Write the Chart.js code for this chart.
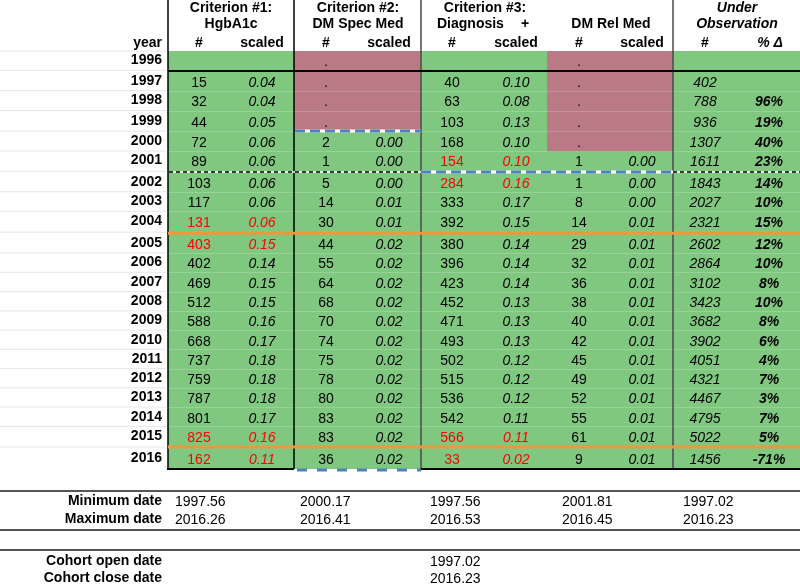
<!DOCTYPE html>
<html>
<head>
<meta charset="utf-8">
<script src="https://cdn.jsdelivr.net/npm/chart.js@4.4.0/dist/chart.umd.min.js"></script>
<style>
body { margin: 0; background: #fff; }
canvas { display: block; }
</style>
</head>
<body>
<canvas id="myChart" width="800" height="584"></canvas>
<script>
// table values, one entry per year (null = empty cell)
var years = [1996, 1997, 1998, 1999, 2000, 2001, 2002, 2003, 2004, 2005, 2006, 2007, 2008, 2009, 2010, 2011, 2012, 2013, 2014, 2015, 2016];
var hgbN = [null, 15, 32, 44, 72, 89, 103, 117, 131, 403, 402, 469, 512, 588, 668, 737, 759, 787, 801, 825, 162];
var hgbS = [null, 0.04, 0.04, 0.05, 0.06, 0.06, 0.06, 0.06, 0.06, 0.15, 0.14, 0.15, 0.15, 0.16, 0.17, 0.18, 0.18, 0.18, 0.17, 0.16, 0.11];
var specN = [null, null, null, null, 2, 1, 5, 14, 30, 44, 55, 64, 68, 70, 74, 75, 78, 80, 83, 83, 36];
var specS = [null, null, null, null, 0.00, 0.00, 0.00, 0.01, 0.01, 0.02, 0.02, 0.02, 0.02, 0.02, 0.02, 0.02, 0.02, 0.02, 0.02, 0.02, 0.02];
var diagN = [null, 40, 63, 103, 168, 154, 284, 333, 392, 380, 396, 423, 452, 471, 493, 502, 515, 536, 542, 566, 33];
var diagS = [null, 0.10, 0.08, 0.13, 0.10, 0.10, 0.16, 0.17, 0.15, 0.14, 0.14, 0.14, 0.13, 0.13, 0.13, 0.12, 0.12, 0.12, 0.11, 0.11, 0.02];
var relN = [null, null, null, null, null, 1, 1, 8, 14, 29, 32, 36, 38, 40, 42, 45, 49, 52, 55, 61, 9];
var relS = [null, null, null, null, null, 0.00, 0.00, 0.00, 0.01, 0.01, 0.01, 0.01, 0.01, 0.01, 0.01, 0.01, 0.01, 0.01, 0.01, 0.01, 0.01];
var obsN = [null, 402, 788, 936, 1307, 1611, 1843, 2027, 2321, 2602, 2864, 3102, 3423, 3682, 3902, 4051, 4321, 4467, 4795, 5022, 1456];
var obsPct = [null, null, 96, 19, 40, 23, 14, 10, 15, 12, 10, 8, 10, 8, 6, 4, 7, 3, 7, 5, -71];

// years shown in red
var hgbRed = [2004, 2005, 2015, 2016];
var diagRed = [2001, 2002, 2015, 2016];
// years with no data (pink cells with ".")
var specMissing = [1996, 1997, 1998, 1999];
var relMissing = [1996, 1997, 1998, 1999, 2000];

var minDates = ['1997.56', '2000.17', '1997.56', '2001.81', '1997.02'];
var maxDates = ['2016.26', '2016.41', '2016.53', '2016.45', '2016.23'];
var cohortOpen = '1997.02';
var cohortClose = '2016.23';

var FONT = '"Liberation Sans", Arial, Helvetica, sans-serif';
var GREEN = '#80c880';
var PINK = '#ba7a85';
var BLUE = '#4f81bd';
var ORANGE = '#f0973c';

// row centres of the sheet (layout only)
var rowCentres = [60, 80.7, 100.5, 120.7, 141.5, 160.5, 182, 201.5, 221, 243.3, 262.6, 282,
                  301.3, 320.5, 339.7, 359, 378.2, 397.5, 416.7, 436, 458];
function rowY(i) { return rowCentres[i]; }
function rowLine(i) { // boundary below row i
    return (rowY(i) + rowY(i + 1)) / 2;
}

var tablePlugin = {
    id: 'table',
    afterDraw: function(chart) {
        var ctx = chart.ctx;
        var sx = chart.scales.x, sy = chart.scales.y;
        function X(v) { return sx.getPixelForValue(v); }
        function Y(v) { return sy.getPixelForValue(v); }
        function rect(x0, y0, x1, y1, color) {
            ctx.fillStyle = color;
            ctx.fillRect(X(x0), Y(y0), X(x1) - X(x0), Y(y1) - Y(y0));
        }
        function line(x0, y0, x1, y1, color, w, dash) {
            ctx.save();
            ctx.strokeStyle = color;
            ctx.lineWidth = w;
            ctx.setLineDash(dash || []);
            ctx.beginPath();
            ctx.moveTo(X(x0), Y(y0));
            ctx.lineTo(X(x1), Y(y1));
            ctx.stroke();
            ctx.restore();
        }
        function text(s, x, y, align, style, color) {
            ctx.font = (style || '') + ' 14px ' + FONT;
            ctx.textAlign = align || 'center';
            ctx.textBaseline = 'middle';
            ctx.fillStyle = color || '#000';
            ctx.fillText(s, X(x), Y(y));
        }

        var top = 51, bottom = 469;
        var n = years.length;

        // faint sheet gridlines left of the table
        line(0, top, 166, top, '#e6e6e6', 1);
        for (var i = 0; i < n; i++) line(0, rowLine(i), 166, rowLine(i), '#e6e6e6', 1);

        // cell backgrounds
        rect(168, top, 800, bottom, GREEN);
        rect(294, top, 421, rowLine(specMissing.length - 1), PINK);
        rect(547, top, 673, rowLine(relMissing.length - 1) + 0.5, PINK);
        for (var i = 1; i < n - 1; i++) {
            var y = Math.round(rowLine(i)) + 0.5;
            line(168, y, 800, y, 'rgba(255,255,255,0.18)', 1);
        }

        // vertical borders
        line(168, 0, 168, bottom, '#000', 1.5);
        line(294, 0, 294, bottom, '#000', 1.5);
        line(421, 0, 421, bottom, '#4a4a4a', 1.5);
        line(673, 0, 673, bottom, '#4a4a4a', 1.5);

        // horizontal borders
        line(168, rowLine(0) + 0.7, 800, rowLine(0) + 0.7, '#000', 2);
        var yb = rowLine(specMissing.length - 1);
        line(295, yb, 421, yb, '#fff', 3);
        line(295, yb, 421, yb, BLUE, 3, [10, 5]);
        var yd = rowLine(5) + 0.8;
        line(169, yd, 421, yd, '#fff', 1.5);
        line(169, yd, 421, yd, '#000', 1.5, [4, 3]);
        line(421, yd, 673, yd, '#fff', 3);
        line(421, yd, 673, yd, BLUE, 3, [10, 5]);
        line(673, yd, 800, yd, '#fff', 1.5);
        line(673, yd, 800, yd, '#000', 1.5, [4, 3]);
        line(168, rowLine(8) + 1, 800, rowLine(8) + 1, ORANGE, 3);
        line(168, rowLine(19), 800, rowLine(19), ORANGE, 3);
        line(167, bottom, 294, bottom, '#000', 2);
        line(421, bottom, 800, bottom, '#000', 2);
        line(297, bottom + 1, 421, bottom + 1, BLUE, 3, [10, 10]);

        // header
        text('Criterion #1:', 231, 8, 'center', 'bold');
        text('HgbA1c', 231, 24, 'center', 'bold');
        text('Criterion #2:', 358, 8, 'center', 'bold');
        text('DM Spec Med', 358, 24, 'center', 'bold');
        text('Criterion #3:', 485, 8, 'center', 'bold');
        text('Diagnosis', 437, 24, 'left', 'bold');
        text('+', 525, 24, 'center', 'bold');
        text('DM Rel Med', 611, 24, 'center', 'bold');
        text('Under', 737, 8, 'center', 'italic bold');
        text('Observation', 737, 24, 'center', 'italic bold');
        text('year', 162, 43, 'right', 'bold');
        var numX = [199, 326, 452, 579], sclX = [262, 389, 516, 642];
        for (var k = 0; k < 4; k++) {
            text('#', numX[k], 43, 'center', 'bold');
            text('scaled', sclX[k], 43, 'center', 'bold');
        }
        text('#', 705, 43, 'center', 'bold');
        text('% \u0394', 770, 43, 'center', 'italic bold');

        // body
        for (var i = 0; i < n; i++) {
            var y = rowY(i) + 2, yr = years[i];
            text(String(yr), 162, rowY(i), 'right', 'bold');
            var c1 = hgbRed.indexOf(yr) >= 0 ? '#ff0000' : '#000';
            var c3 = diagRed.indexOf(yr) >= 0 ? '#ff0000' : '#000';
            if (hgbN[i] !== null) text(String(hgbN[i]), numX[0], y, 'center', '', c1);
            if (hgbS[i] !== null) text(hgbS[i].toFixed(2), sclX[0], y, 'center', 'italic', c1);
            if (specMissing.indexOf(yr) >= 0) text('.', numX[1], y);
            if (specN[i] !== null) text(String(specN[i]), numX[1], y);
            if (specS[i] !== null) text(specS[i].toFixed(2), sclX[1], y, 'center', 'italic');
            if (diagN[i] !== null) text(String(diagN[i]), numX[2], y, 'center', '', c3);
            if (diagS[i] !== null) text(diagS[i].toFixed(2), sclX[2], y, 'center', 'italic', c3);
            if (relMissing.indexOf(yr) >= 0) text('.', numX[3], y);
            if (relN[i] !== null) text(String(relN[i]), numX[3], y);
            if (relS[i] !== null) text(relS[i].toFixed(2), sclX[3], y, 'center', 'italic');
            if (obsN[i] !== null) text(String(obsN[i]), 705, y, 'center', 'italic');
            if (obsPct[i] !== null) text(obsPct[i] + '%', 769, y, 'center', 'italic bold');
        }

        // date summary
        line(0, 491, 800, 491, '#555', 2);
        line(0, 530, 800, 530, '#555', 2);
        line(0, 550, 800, 550, '#555', 2);
        text('Minimum date', 162, 501, 'right', 'bold');
        text('Maximum date', 162, 519, 'right', 'bold');
        text('Cohort open date', 162, 561, 'right', 'bold');
        text('Cohort close date', 162, 578, 'right', 'bold');
        var dateX = [175, 300, 430, 562, 683];
        for (var k = 0; k < dateX.length; k++) {
            text(minDates[k], dateX[k], 502, 'left');
            text(maxDates[k], dateX[k], 520, 'left');
        }
        text(cohortOpen, 430, 562, 'left');
        text(cohortClose, 430, 579, 'left');
    }
};

var ctx = document.getElementById('myChart').getContext('2d');
var chart = new Chart(ctx, {
    type: 'scatter',
    data: { datasets: [{ data: [] }] },
    options: {
        responsive: false,
        animation: false,
        layout: { padding: 0 },
        plugins: { legend: { display: false }, tooltip: { enabled: false } },
        scales: {
            x: { type: 'linear', min: 0, max: 800, display: false },
            y: { type: 'linear', min: 0, max: 584, reverse: true, display: false }
        }
    },
    plugins: [tablePlugin]
});
</script>
</body>
</html>
